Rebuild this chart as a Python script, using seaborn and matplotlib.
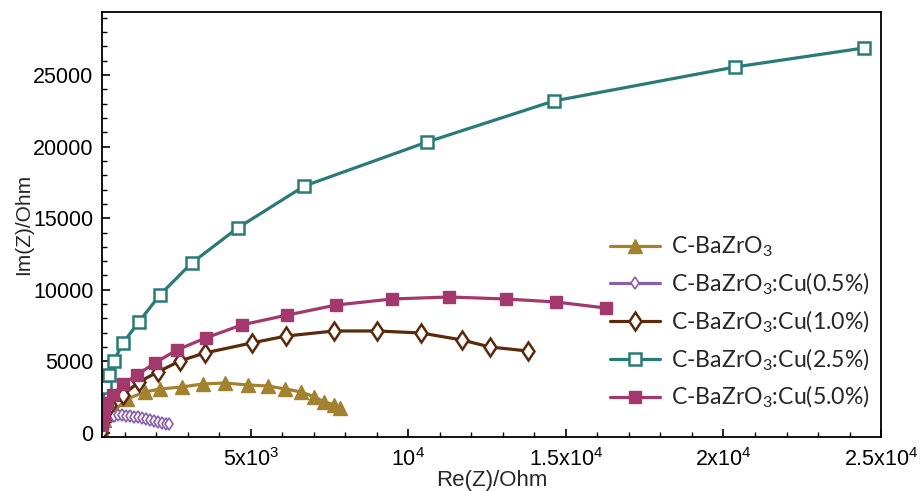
import numpy as np
import pandas as pd
import matplotlib
matplotlib.use("Agg")
import matplotlib.pyplot as plt
import seaborn as sns
from matplotlib.ticker import MultipleLocator, FixedLocator, FixedFormatter

# ---------------- data ----------------
series_labels = [
    r"C-BaZrO$\mathregular{_3}$",
    r"C-BaZrO$\mathregular{_3}$:Cu(0.5%)",
    r"C-BaZrO$\mathregular{_3}$:Cu(1.0%)",
    r"C-BaZrO$\mathregular{_3}$:Cu(2.5%)",
    r"C-BaZrO$\mathregular{_3}$:Cu(5.0%)",
]

re_pure = [244, 339, 465, 687, 1067, 1636, 2111, 2807, 3472, 4168, 4896, 5529,
           6099, 6606, 7017, 7334, 7650, 7840]
im_pure = [349, 908, 1327, 1606, 2374, 2863, 3072, 3212, 3421, 3492, 3352, 3282,
           3072, 2863, 2514, 2165, 1955, 1746]

re_cu05 = [275, 307, 339, 402, 465, 560, 655, 782, 908, 1035, 1161, 1288, 1415,
           1541, 1668, 1794, 1921, 2048, 2174, 2301, 2396]
im_cu05 = [70, 349, 628, 838, 978, 1117, 1187, 1222, 1222, 1187, 1152, 1117, 1082,
           1047, 978, 908, 838, 768, 698, 628, 607]

re_cu10 = [247, 339, 529, 940, 1446, 2048, 2744, 3536, 5023, 6131, 7650, 9011,
           10403, 11701, 12587, 13790]
im_cu10 = [70, 908, 1955, 2654, 3561, 4260, 5028, 5586, 6285, 6774, 7123, 7123,
           6983, 6494, 6005, 5726]

re_cu25 = [275, 370, 497, 655, 940, 1446, 2111, 3124, 4580, 6699, 10593, 14613,
           20373, 24456]
im_cu25 = [1955, 3212, 4050, 5028, 6285, 7752, 9637, 11871, 14315, 17248, 20320,
           23184, 25560, 26885]

re_cu50 = [275, 339, 434, 623, 940, 1383, 1953, 2649, 3567, 4706, 6162, 7713,
           9485, 11289, 13093, 14675, 16258]
im_cu50 = [559, 1257, 2095, 2654, 3422, 4050, 4888, 5796, 6634, 7542, 8240, 8938,
           9357, 9497, 9357, 9148, 8729]

x_tick_values = [5000, 10000, 15000, 20000, 25000]
x_tick_labels = [r"$\mathregular{5x10^3}$", r"$\mathregular{10^4}$",
                 r"$\mathregular{1.5x10^4}$", r"$\mathregular{2x10^4}$",
                 r"$\mathregular{2.5x10^4}$"]

# ---------------- build table ----------------
frames = []
for lab, xs, ys in zip(series_labels,
                       [re_pure, re_cu05, re_cu10, re_cu25, re_cu50],
                       [im_pure, im_cu05, im_cu10, im_cu25, im_cu50]):
    frames.append(pd.DataFrame({"series": lab, "re": xs, "im": ys,
                                "order": np.arange(len(xs))}))
df = pd.concat(frames, ignore_index=True)

colors = ["#A2812F", "#8C5FAA", "#5A2A0C", "#2A7B77", "#A2386C"]
styles = [
    dict(marker="^", markersize=10, markerfacecolor=colors[0], markeredgecolor=colors[0], markeredgewidth=1),
    dict(marker="d", markersize=6, markerfacecolor="white", markeredgecolor=colors[1], markeredgewidth=1.2),
    dict(marker="d", markersize=9.5, markerfacecolor="white", markeredgecolor=colors[2], markeredgewidth=1.8),
    dict(marker="s", markersize=8, markerfacecolor="white", markeredgecolor=colors[3], markeredgewidth=1.8),
    dict(marker="s", markersize=9, markerfacecolor=colors[4], markeredgecolor=colors[4], markeredgewidth=1),
]

# ---------------- figure ----------------
sns.set_style("white")
plt.rcParams["font.family"] = ["Liberation Sans", "DejaVu Sans"]

fig = plt.figure(figsize=(9.21, 4.91), dpi=100)
ax = fig.add_axes([0.1104, 0.110, 0.8462, 0.8656])

for lab, col, st in zip(series_labels, colors, styles):
    sub = df[df["series"] == lab]
    sns.lineplot(data=sub, x="re", y="im", sort=False, estimator=None,
                 color=col, linewidth=2.3, label=lab, ax=ax, **st)

ax.set_xlim(266, 25000)
ax.set_ylim(-280, 29400)

ax.xaxis.set_major_locator(FixedLocator(x_tick_values))
ax.xaxis.set_major_formatter(FixedFormatter(x_tick_labels))
ax.xaxis.set_minor_locator(MultipleLocator(1000))
ax.yaxis.set_major_locator(MultipleLocator(5000))
ax.yaxis.set_minor_locator(MultipleLocator(1000))

ax.tick_params(axis="both", which="both", direction="in", top=False, right=False,
               bottom=True, left=True, colors="black")
ax.tick_params(axis="both", which="major", length=6, width=1.2, labelsize=15.5)
ax.tick_params(axis="both", which="minor", length=3.5, width=1.0)
ax.tick_params(axis="x", which="major", pad=8)
ax.tick_params(axis="y", which="major", pad=6)

for s in ax.spines.values():
    s.set_color("black")
    s.set_linewidth(1.3)
    s.set_visible(True)

ax.set_xlabel("Re(Z)/Ohm", fontsize=16, labelpad=-1)
ax.set_ylabel("Im(Z)/Ohm", fontsize=15, labelpad=0)

leg = ax.legend(loc="center left", bbox_to_anchor=(610 / 921, 1 - 322.5 / 491),
                bbox_transform=fig.transFigure, frameon=False, borderpad=0,
                borderaxespad=0, handlelength=2.15, handletextpad=0.5,
                labelspacing=0.5, prop=dict(family="Lato", size=16.6))

fig.savefig("out.png", dpi=100)
